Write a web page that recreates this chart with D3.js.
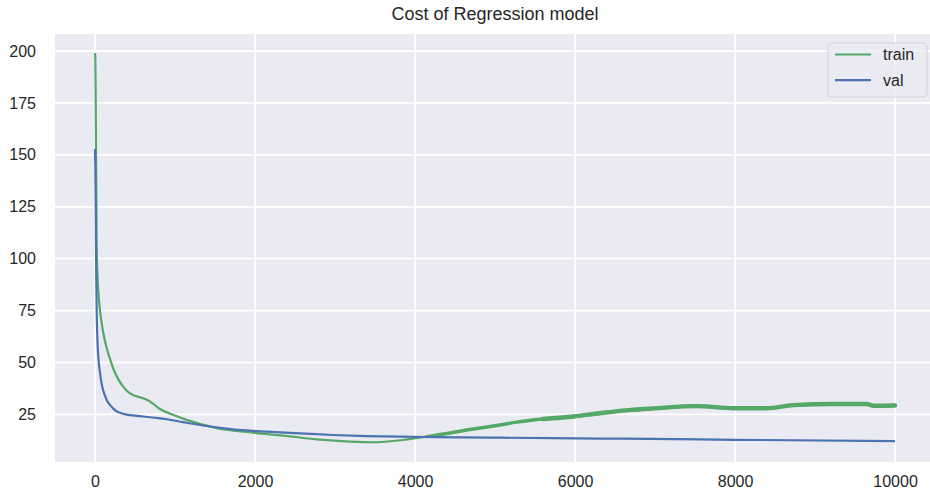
<!DOCTYPE html>
<html>
<head>
<meta charset="utf-8">
<script src="https://cdn.jsdelivr.net/npm/d3@7"></script>
<style>
  body { margin: 0; background: #ffffff; }
  svg { display: block; font-family: "Liberation Sans", Arial, sans-serif; }
</style>
</head>
<body>
<div id="chart"></div>
<script>
// podaci ocitani sa slike
var trainIter = [0, 4, 8, 12, 16, 20, 28, 42, 60, 83, 110, 146, 190, 229, 290, 354, 420, 480, 540, 600, 660, 720, 812, 950,
    1146, 1521, 1979, 2354, 2771, 3187, 3479, 3729, 3900, 4146, 4400, 4646, 5062, 5271, 5600, 5979, 6312, 6700,
    6979, 7521, 7979, 8396, 8729, 9229, 9646, 9729, 9999];
var trainCost = [199, 196, 180, 157, 130, 109, 95, 84, 76, 69, 63, 57, 51.5, 47, 42, 38.3, 35.6, 34.3, 33.5, 32.8, 31.8, 30.3, 27.6, 25.2,
    22.4, 18.4, 16.2, 14.8, 13.0, 11.9, 11.6, 12.2, 13.0, 14.3, 15.8, 17.5, 19.9, 21.3, 22.8, 24.0, 25.6, 27.2,
    27.9, 29.0, 28.0, 28.0, 29.5, 30.0, 30.0, 29.2, 29.3];

var valIter = [0, 4, 8, 12, 16, 20, 30, 45, 62, 90, 120, 146, 187, 230, 271, 312, 396, 500, 604, 750, 896, 1100,
    1312, 1729, 2146, 2562, 2979, 3396, 3812, 4229, 5062, 6312, 7562, 7979, 9999];
var valCost = [152.8, 145, 130, 109, 90, 77, 61, 51, 45, 38.5, 34.5, 32, 29.6, 27.8, 26.5, 25.8, 24.9, 24.4, 24.0, 23.4, 22.7, 21.3,
    19.9, 17.8, 16.7, 15.9, 15.1, 14.6, 14.3, 14.1, 13.8, 13.4, 13.0, 12.8, 12.2];

var xTicks = [0, 2000, 4000, 6000, 8000, 10000];
var yTicks = [25, 50, 75, 100, 125, 150, 175, 200];
var seriesNames = ["train", "val"];

var width = 930, height = 495;
var margin = { top: 34, right: -5, bottom: 33, left: 55 };

var svg = d3.select("#chart").append("svg")
    .attr("width", width)
    .attr("height", height);

var x = d3.scaleLinear()
    .domain([-500, 10499])
    .range([margin.left, width - margin.right]);

var y = d3.scaleLinear()
    .domain([2.1, 208.2])
    .range([height - margin.bottom, margin.top]);

var colors = { train: "#55a868", val: "#4c72b0" };

// pozadina grafa
svg.append("rect")
    .attr("x", margin.left)
    .attr("y", margin.top)
    .attr("width", width - margin.right - margin.left)
    .attr("height", height - margin.bottom - margin.top)
    .attr("fill", "#eaeaf2");

// mreza
svg.append("g")
    .selectAll("line")
    .data(xTicks)
    .enter()
    .append("line")
    .attr("x1", d => x(d)).attr("x2", d => x(d))
    .attr("y1", margin.top).attr("y2", height - margin.bottom)
    .attr("stroke", "#ffffff")
    .attr("stroke-width", 1.8);

svg.append("g")
    .selectAll("line")
    .data(yTicks)
    .enter()
    .append("line")
    .attr("x1", margin.left).attr("x2", width - margin.right)
    .attr("y1", d => y(d)).attr("y2", d => y(d))
    .attr("stroke", "#ffffff")
    .attr("stroke-width", 1.8);

// osi
var xAxis = d3.axisBottom(x).tickValues(xTicks).tickSize(0).tickPadding(14).tickFormat(d3.format("d"));
var yAxis = d3.axisLeft(y).tickValues(yTicks).tickSize(0).tickPadding(19).tickFormat(d3.format("d"));

svg.append("g")
    .attr("transform", "translate(0," + (height - margin.bottom) + ")")
    .call(xAxis)
    .call(g => g.select(".domain").remove())
    .selectAll("text")
    .style("font-size", "16px")
    .attr("fill", "#262626");

svg.append("g")
    .attr("transform", "translate(" + margin.left + ",0)")
    .call(yAxis)
    .call(g => g.select(".domain").remove())
    .selectAll("text")
    .style("font-size", "16px")
    .attr("fill", "#262626");

// linije
var trainData = trainIter.map((d, i) => [d, trainCost[i]]);
var valData = valIter.map((d, i) => [d, valCost[i]]);

var line = d3.line()
    .x(d => x(d[0]))
    .y(d => y(d[1]))
    .curve(d3.curveMonotoneX);

svg.append("path")
    .datum(trainData)
    .attr("fill", "none")
    .attr("stroke", colors.train)
    .attr("stroke-width", 2.2)
    .attr("d", line);

// sum u train krivulji nakon ~4200 iteracija - deblja linija
svg.append("path")
    .datum(trainData.filter(d => d[0] >= 4146))
    .attr("fill", "none")
    .attr("stroke", colors.train)
    .attr("stroke-width", 3.4)
    .attr("stroke-linecap", "round")
    .attr("d", line);

svg.append("path")
    .datum(trainData.filter(d => d[0] >= 5600))
    .attr("fill", "none")
    .attr("stroke", colors.train)
    .attr("stroke-width", 4.4)
    .attr("stroke-linecap", "round")
    .attr("d", line);

svg.append("path")
    .datum(valData)
    .attr("fill", "none")
    .attr("stroke", colors.val)
    .attr("stroke-width", 2.2)
    .attr("d", line);

// naslov
svg.append("text")
    .attr("x", (margin.left + width - margin.right) / 2)
    .attr("y", 20)
    .attr("text-anchor", "middle")
    .style("font-size", "18px")
    .attr("fill", "#262626")
    .text("Cost of Regression model");

// legenda
var legend = svg.append("g").attr("transform", "translate(828,43)");
legend.append("rect")
    .attr("width", 99)
    .attr("height", 54)
    .attr("rx", 4)
    .attr("fill", "#eaeaf2")
    .attr("fill-opacity", 0.8)
    .attr("stroke", "#d3d3da")
    .attr("stroke-width", 1);

seriesNames.forEach(function (name, i) {
    var ly = 11.5 + i * 25.7;
    legend.append("line")
        .attr("x1", 7).attr("x2", 43)
        .attr("y1", ly).attr("y2", ly)
        .attr("stroke", colors[name])
        .attr("stroke-width", 2.2);
    legend.append("text")
        .attr("x", 55)
        .attr("y", ly)
        .attr("dy", "0.36em")
        .style("font-size", "16px")
        .attr("fill", "#262626")
        .text(name);
});
</script>
</body>
</html>
